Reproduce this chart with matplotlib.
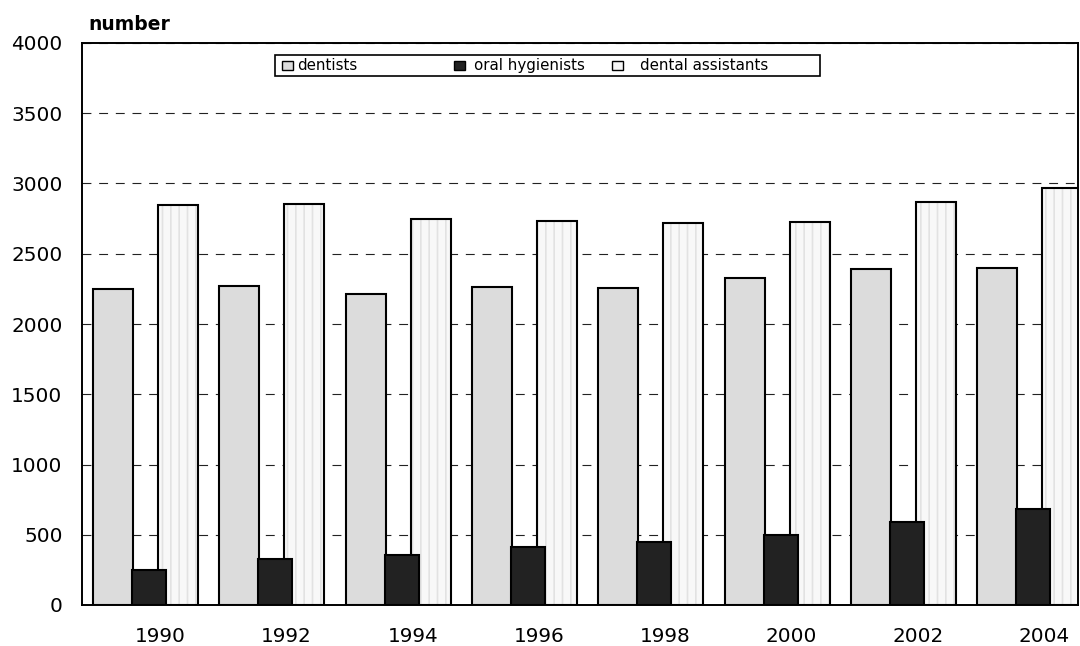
import matplotlib
matplotlib.use("Agg")
import matplotlib.pyplot as plt
from matplotlib.patches import Rectangle
import numpy as np

years = ["1990", "1992", "1994", "1996", "1998", "2000", "2002", "2004"]
dentists = [2250, 2270, 2210, 2265, 2255, 2330, 2390, 2400]
hygienists = [250, 330, 355, 410, 450, 498, 590, 683]
assistants = [2850, 2855, 2745, 2735, 2717, 2724, 2865, 2965]

plt.rcParams['font.family'] = ['DejaVu Sans']
plt.rcParams['hatch.linewidth'] = 1.2

fig = plt.figure(figsize=(10.8, 6.46), dpi=100)
ax = fig.add_axes([82/1080, 1-605/646, 996/1080, 562/646])

x = np.arange(len(years))
# dentists first, then assistants, hygienists on top (they overlap the assistants)
ax.bar(x - 0.372, dentists, width=0.317, color='#dcdcdc', edgecolor='black', linewidth=1.5, zorder=2)
# faint texture of the assistants bars
ax.bar(x + 0.143, assistants, width=0.317, color='#f8f8f8', edgecolor='#e2e2e2', hatch='||', linewidth=0, zorder=2)
ax.bar(x + 0.143, assistants, width=0.317, fill=False, edgecolor='black', linewidth=1.5, zorder=2.1)
ax.bar(x - 0.087, hygienists, width=0.27, color='#222222', edgecolor='black', linewidth=1.5, zorder=3)

ax.set_xlim(-0.618, 7.268)
ax.set_ylim(0, 4000)
ax.set_yticks(np.arange(0, 4001, 500))
ax.set_xticks(x)
ax.set_xticklabels(years)
ax.tick_params(axis='y', length=0, pad=14, labelsize=14.4)
ax.tick_params(axis='x', length=0, pad=16, labelsize=14.4)
for s in ax.spines.values():
    s.set_linewidth(1.4)
ax.yaxis.grid(True, color='#222222', linestyle=(0, (8, 7)), linewidth=0.8)
ax.set_axisbelow(True)

fig.text(88/1080, 1-25/646, "number", fontsize=13.5, fontweight='bold', va='center', ha='left')

# legend box drawn by hand to match the spacing of the original
fig.patches.append(Rectangle((275/1080, 1-76/646), 545/1080, 21/646, transform=fig.transFigure,
                             facecolor='white', edgecolor='black', linewidth=1.2, zorder=5))
leg_items = [("dentists", '#dcdcdc', None, 282, 297),
             ("oral hygienists", '#222222', None, 454, 474),
             ("dental assistants", '#f6f6f6', None, 612, 640)]
for label, col, h, px, tx in leg_items:
    fig.patches.append(Rectangle((px/1080, 1-70/646), 11/1080, 9/646, transform=fig.transFigure,
                                 facecolor=col, edgecolor='black', linewidth=1.0, zorder=6))
    fig.text(tx/1080, 1-65.5/646, label, fontsize=10.8, va='center', ha='left', zorder=6)

fig.savefig("out.png", dpi=100)
